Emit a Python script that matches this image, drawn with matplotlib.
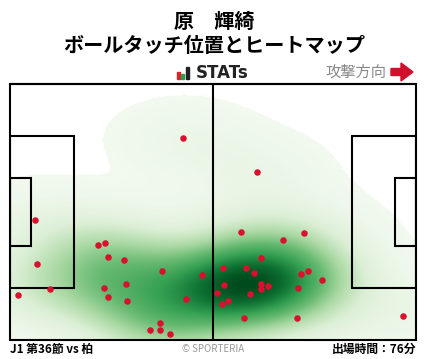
import numpy as np
import matplotlib
matplotlib.use("Agg")
import matplotlib.pyplot as plt
from matplotlib.patches import Rectangle, FancyArrow
from matplotlib.colors import LinearSegmentedColormap, PowerNorm

plt.rcParams['font.family'] = ['Noto Sans CJK JP', 'DejaVu Sans']

title_player = "原　輝綺"
title_sub = "ボールタッチ位置とヒートマップ"
footer_left = "J1 第36節 vs 柏"
footer_mid = "© SPORTERIA"
footer_right = "出場時間：76分"
attack_label = "攻撃方向"

PITCH_L, PITCH_W = 105.0, 68.0

touch_x = [6.5, 22.8, 24.6, 25.4, 29.6, 6.9, 39.4, 49.7, 24.4, 30.1, 10.4, 2.1, 25.4, 30.3,
           45.6, 38.9, 36.3, 38.9, 41.5, 59.8, 76.1, 70.7, 65.0, 55.2, 61.1, 63.2, 75.3, 77.1,
           80.8, 55.4, 65.0, 66.8, 65.0, 74.6, 53.6, 62.1, 56.5, 54.9, 60.6, 74.3, 101.7, 44.8, 64.0]
touch_y = [31.8, 25.2, 25.7, 22.0, 21.2, 20.1, 18.2, 17.2, 13.7, 14.8, 13.5, 11.9, 11.3, 10.3,
           10.8, 4.4, 2.6, 2.6, 1.5, 28.6, 28.3, 26.5, 21.7, 19.0, 19.0, 17.7, 17.5, 18.2,
           15.9, 14.5, 14.8, 14.3, 13.5, 13.7, 12.4, 12.1, 10.3, 9.5, 5.8, 5.8, 6.3, 53.6, 44.5]

W, H = 428, 359
fig = plt.figure(figsize=(W/100, H/100), dpi=100)
fig.patch.set_facecolor('white')

def fx(px): return px / W
def fy(py): return 1 - py / H

# titles
fig.text(0.5, fy(21), title_player, ha='center', va='center', fontsize=14.5, fontweight='bold')
fig.text(0.5, fy(46), title_sub, ha='center', va='center', fontsize=14.5, fontweight='bold')

# STATs logo
bars = [(177, 72, 3, 7, '#e0202a'), (181, 74, 3, 5, '#2aa04a'), (186, 67, 3, 12, '#222222')]
for (x0, y0, w, h, c) in bars:
    fig.patches.append(Rectangle((fx(x0), fy(y0 + h)), w / W, h / H, transform=fig.transFigure,
                                 color=c, zorder=5))
fig.text(fx(196), fy(73), "STATs", ha='left', va='center', fontsize=12, fontweight='bold',
         family=['DejaVu Sans'], color='#222222')

# attack direction
fig.text(fx(386), fy(72), attack_label, ha='right', va='center', fontsize=11, color='#888888')
fig.patches.append(FancyArrow(fx(391), fy(72), 10 / W, 0, width=7 / H, head_width=18 / H,
                              head_length=12 / W, length_includes_head=False,
                              transform=fig.transFigure, color='#d0102a', zorder=5))

# top line
fig.add_artist(plt.Line2D([fx(10), fx(416)], [fy(84), fy(84)], transform=fig.transFigure,
                          color='black', lw=1.5))

ax = fig.add_axes([fx(10), fy(340), 406 / W, 256 / H])
ax.set_xlim(0, PITCH_L)
ax.set_ylim(0, PITCH_W)
ax.set_axis_off()

# heatmap (gaussian KDE of touches)
tx = np.array(touch_x); ty = np.array(touch_y)
gx = np.linspace(0, PITCH_L, 320)
gy = np.linspace(0, PITCH_W, 220)
GX, GY = np.meshgrid(gx, gy)
bwx, bwy = 12.5, 7.0
Z = np.zeros_like(GX)
for x0, y0 in zip(tx, ty):
    Z += np.exp(-0.5 * (((GX - x0) / bwx) ** 2 + ((GY - y0) / bwy) ** 2))
Z = Z / Z.max()
thr = 0.018
Zm = np.ma.masked_less(Z, thr)
cmap = LinearSegmentedColormap.from_list('g', ['#f2f9ef', '#dcefd6', '#a9d8a2', '#66b970',
                                                '#34a052', '#0f7434', '#004a1c'])
cmap.set_bad('white')
ax.imshow(Zm, extent=(0, PITCH_L, 0, PITCH_W), origin='lower', cmap=cmap,
          norm=PowerNorm(gamma=1.1, vmin=thr, vmax=1),
          aspect='auto', interpolation='bilinear', zorder=1)

lw = 1.5
lc = 'black'
ax.add_patch(Rectangle((0, 0), PITCH_L, PITCH_W, fill=False, ec=lc, lw=lw, zorder=3, clip_on=False))
ax.plot([PITCH_L / 2, PITCH_L / 2], [0, PITCH_W], color=lc, lw=lw, zorder=3)
pb_w, pb_d = 40.3, 16.5
ga_w, ga_d = 18.3, 5.5
ax.add_patch(Rectangle((0, (PITCH_W - pb_w) / 2), pb_d, pb_w, fill=False, ec=lc, lw=lw, zorder=3))
ax.add_patch(Rectangle((0, (PITCH_W - ga_w) / 2), ga_d, ga_w, fill=False, ec=lc, lw=lw, zorder=3))
ax.add_patch(Rectangle((PITCH_L - pb_d, (PITCH_W - pb_w) / 2), pb_d, pb_w, fill=False, ec=lc, lw=lw, zorder=3))
ax.add_patch(Rectangle((PITCH_L - ga_d, (PITCH_W - ga_w) / 2), ga_d, ga_w, fill=False, ec=lc, lw=lw, zorder=3))

ax.scatter(tx, ty, s=22, color='#d9102e', zorder=4, linewidths=0)

# footer
fig.text(fx(10), fy(349), footer_left, ha='left', va='center', fontsize=8.5, fontweight='bold')
fig.text(fx(213), fy(349), footer_mid, ha='center', va='center', fontsize=7, color='#999999')
fig.text(fx(416), fy(349), footer_right, ha='right', va='center', fontsize=8.5, fontweight='bold')

fig.savefig('out.png', dpi=100)
